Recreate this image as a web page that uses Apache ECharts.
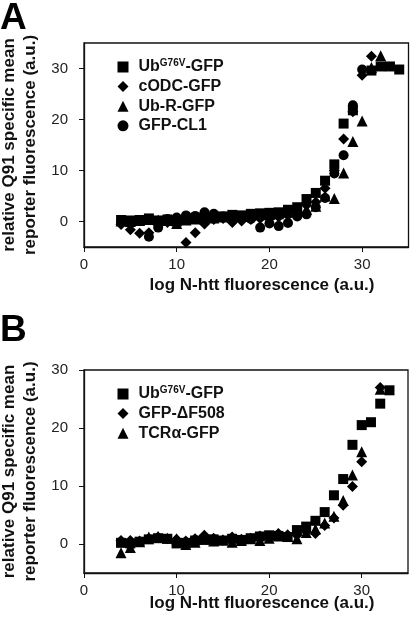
<!DOCTYPE html>
<html><head><meta charset="utf-8">
<script src="https://cdn.jsdelivr.net/npm/echarts@6/dist/echarts.min.js"></script>
<style>html,body{margin:0;padding:0;background:#fff}#c{width:410px;height:621px}</style>
</head><body><div id="c"></div>
<script>
// ---------- data ----------
const xA = [4,5,6,7,8,9,10,11,12,13,14,15,16,17,18,19,20,21,22,23,24,25,26,27,28,29,30,31,32,33,34];
const ubG76V_A = [0.3,0.2,0.3,0.6,0.2,0.4,0.0,0.4,0.7,0.7,0.9,1.0,1.3,1.2,1.5,1.6,1.7,1.8,2.3,2.8,4.4,5.6,8.0,11.2,19.2,21.8,null,29.6,30.4,30.4,29.8];
const cODC_A   = [-0.6,-1.6,-2.3,-2.2,-0.5,-0.2,0.3,-4.1,-2.2,-0.5,0.4,0.6,-0.2,0.1,0.4,0.6,0.5,0.9,1.2,1.7,3.2,3.8,6.5,10.0,16.2,21.5,28.7,32.4,null,null,null];
const ubR_A    = [0.1,0.0,0.2,0.4,0.3,0.2,-0.4,0.3,0.5,0.6,0.7,0.9,1.0,1.0,1.2,1.3,1.4,1.5,1.8,2.0,2.4,3.0,5.0,4.5,9.5,15.7,19.7,30.2,32.5,null,null];
const cl1_A    = [0.0,0.1,0.2,-3.0,-1.2,0.5,0.8,1.2,1.1,1.8,1.5,1.0,0.8,0.6,0.5,-1.2,-0.4,-0.9,-0.3,1.0,1.4,2.8,4.6,9.4,13.0,22.8,29.8,null,null,null,null];

const xB = [4,5,6,7,8,9,10,11,12,13,14,15,16,17,18,19,20,21,22,23,24,25,26,27,28,29,30,31,32,33];
const ubG76V_B = [0.2,0.1,0.4,0.8,1.0,0.9,0.1,0.2,0.6,0.7,0.8,0.6,0.9,0.7,1.0,1.3,1.5,1.4,1.2,2.4,3.0,4.0,5.5,8.4,11.2,17.1,20.5,21.0,24.2,26.5];
const dF508_B  = [0.6,0.6,0.5,0.9,1.2,0.9,0.8,0.5,0.9,1.5,1.0,0.7,1.2,0.8,1.0,1.4,1.4,1.8,1.6,1.5,2.1,1.8,3.2,4.5,6.7,9.9,14.2,null,27.0,null];
const tcra_B   = [-1.5,-0.6,0.4,1.2,1.3,1.0,0.9,-0.1,0.3,1.2,0.5,0.7,0.3,0.6,0.9,0.6,1.0,1.4,1.3,0.9,2.0,2.6,3.6,4.8,7.5,11.9,15.9,null,26.7,null];

const xTicks = [0,10,20,30];
const yTicks = [0,10,20,30];

// ---------- chart ----------
const pair = (xs, ys) => xs.map((x,i)=>[x, ys[i]]).filter(p=>p[1]!==null);
const FONT = 'Liberation Sans, Arial, Helvetica, sans-serif';
const INK = '#111';
const LW = 1.3;

function xAxis(gi){
  return {type:'value', gridIndex:gi, min:0, max:35, position:'bottom',
    axisLine:{show:true, onZero:false, lineStyle:{color:INK, width:LW}},
    axisTick:{show:true, length:5, inside:false, customValues:xTicks, lineStyle:{color:INK}},
    axisLabel:{customValues:xTicks, fontFamily:FONT, fontSize:15, color:'#222', margin:10},
    splitLine:{show:false}};
}
function yAxis(gi, max){
  return {type:'value', gridIndex:gi, min:-5, max:max, position:'left',
    name:'relative Q91 specific mean\nreporter fluorescence (a.u.)',
    nameLocation:'middle', nameRotate:90, nameGap:37,
    nameTextStyle:{fontFamily:FONT, fontWeight:'bold', fontSize:17, color:INK, lineHeight:21},
    axisLine:{show:true, onZero:false, lineStyle:{color:INK, width:LW}},
    axisTick:{show:true, length:5, inside:false, customValues:yTicks, lineStyle:{color:INK}},
    axisLabel:{customValues:yTicks, fontFamily:FONT, fontSize:15, color:'#222', margin:16},
    splitLine:{show:false}};
}
function sc(name, gi, sym, size, data, z){
  return {type:'scatter', name:name, xAxisIndex:gi, yAxisIndex:gi, symbol:sym, symbolSize:size,
    itemStyle:{color:'#000', opacity:1}, data:data, z:z, silent:true};
}

const legendNames = {
  'Ub A':'{f|Ub}{s|G76V}{b|-GFP}', 'cODC':'{f|cODC-GFP}', 'UbR':'{f|Ub-R-GFP}', 'CL1':'{f|GFP-CL1}',
  'Ub B':'{f|Ub}{s|G76V}{b|-GFP}', 'dF':'{f|GFP-ΔF508}', 'TCR':'{f|TCRα-GFP}'
};
const bText = {fontFamily:FONT, fontWeight:'bold', fontSize:16, color:INK, lineHeight:18};
const legendText = {fontFamily:FONT, fontWeight:'bold', fontSize:16, color:INK,
  rich:{b:bText, f:Object.assign({}, bText, {padding:[0,0,0,5]}),
        s:{fontFamily:FONT, fontWeight:'bold', fontSize:10, color:INK, verticalAlign:'top', lineHeight:18, padding:[0,0,6,0]}}};
function legend(top, names){
  return {orient:'vertical', left:112.5, top:top, itemWidth:11, itemHeight:11, itemGap:3.6,
    data:names, selectedMode:false, textStyle:legendText, formatter:n=>legendNames[n]};
}

const chart = echarts.init(document.getElementById('c'), null, {renderer:'canvas'});
chart.setOption({
  animation:false,
  backgroundColor:'#fff',
  grid:[
    {left:84, top:43, width:324.5, height:204, outerBoundsMode:'none', containLabel:false,
     show:true, borderColor:INK, borderWidth:LW, backgroundColor:'rgba(0,0,0,0)'},
    {left:84, top:370, width:324, height:203, outerBoundsMode:'none', containLabel:false,
     show:true, borderColor:INK, borderWidth:LW, backgroundColor:'rgba(0,0,0,0)'}
  ],
  xAxis:[xAxis(0), xAxis(1)],
  yAxis:[yAxis(0,35), yAxis(1,30)],
  legend:[legend(53, ['Ub A','cODC','UbR','CL1']), legend(380, ['Ub B','dF','TCR'])],
  series:[
    sc('CL1',0,'circle',10,pair(xA,cl1_A),2),
    sc('UbR',0,'triangle',11,pair(xA,ubR_A),3),
    sc('cODC',0,'diamond',11,pair(xA,cODC_A),4),
    sc('Ub A',0,'rect',10,pair(xA,ubG76V_A),5),
    sc('TCR',1,'triangle',11,pair(xB,tcra_B),3),
    sc('dF',1,'diamond',11,pair(xB,dF508_B),4),
    sc('Ub B',1,'rect',10,pair(xB,ubG76V_B),5)
  ],
  graphic:[
    {type:'text', left:0, top:0, style:{text:'A', font:'bold 37px '+FONT, fill:'#000'}},
    {type:'text', left:0, top:312, style:{text:'B', font:'bold 37px '+FONT, fill:'#000'}},
    {type:'text', x:262, y:285, style:{text:'log N-htt fluorescence (a.u.)', font:'bold 17px '+FONT, fill:INK, align:'center', verticalAlign:'middle'}},
    {type:'text', x:262, y:603, style:{text:'log N-htt fluorescence (a.u.)', font:'bold 17px '+FONT, fill:INK, align:'center', verticalAlign:'middle'}}
  ]
});
</script></body></html>
